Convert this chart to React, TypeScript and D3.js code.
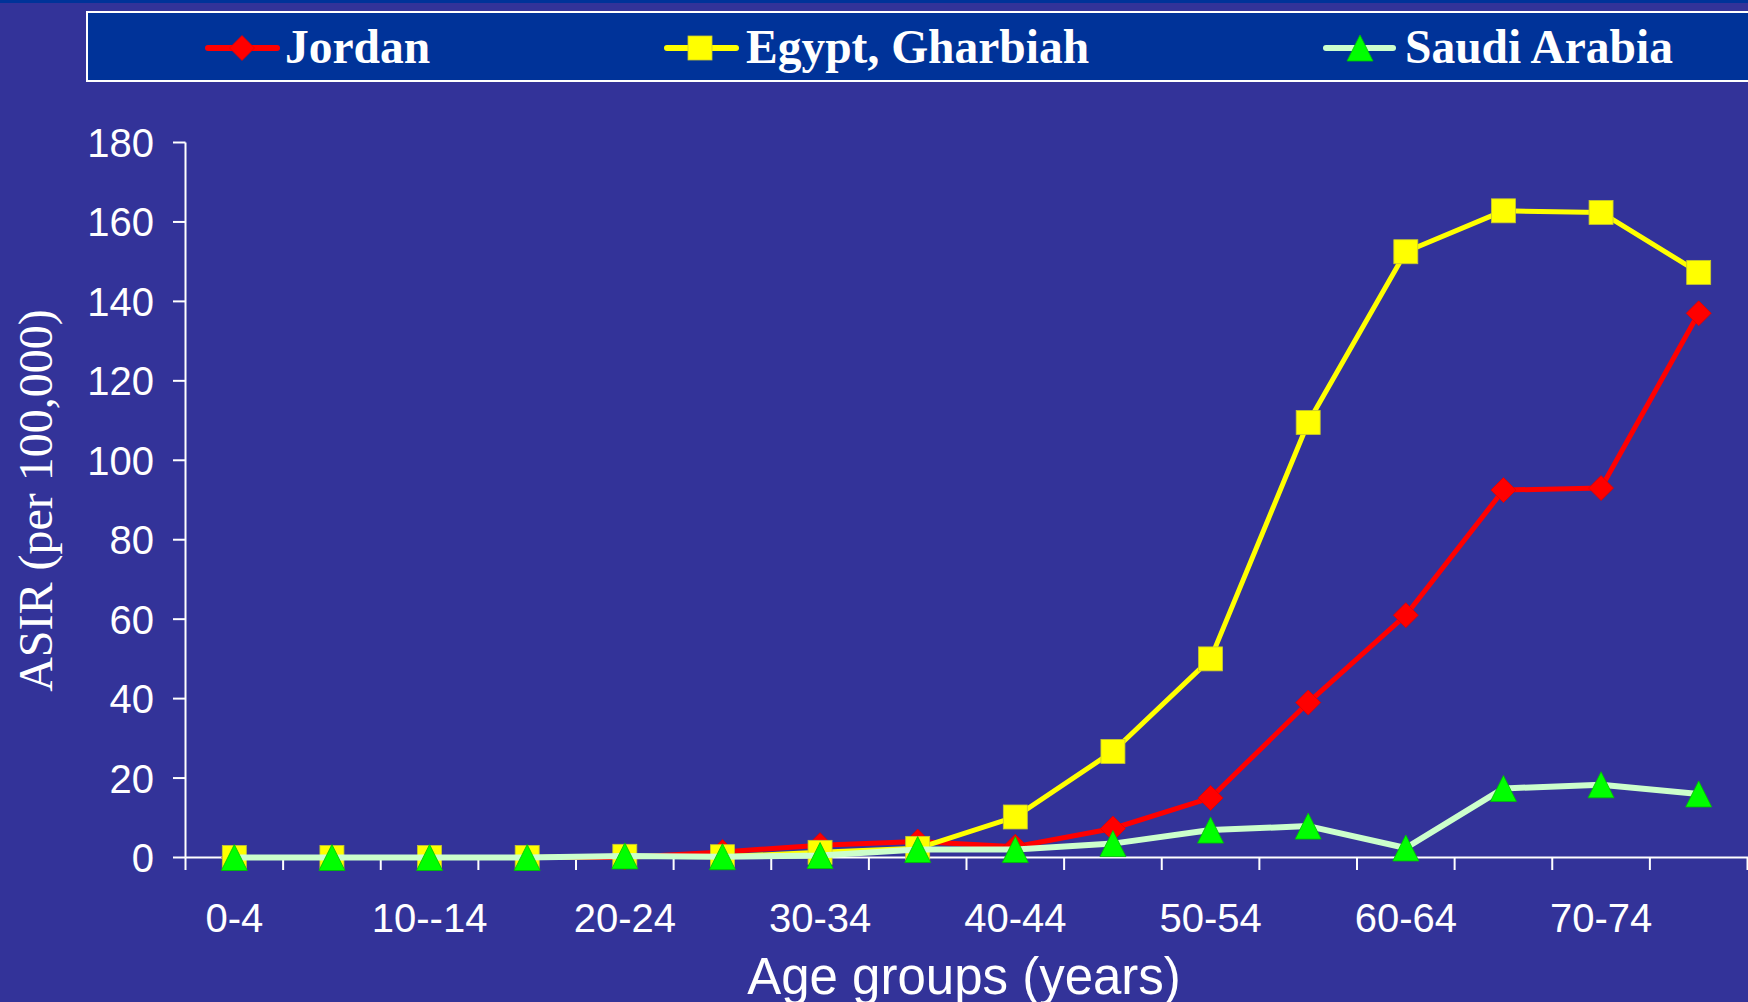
import React from "react";
import * as d3 from "d3";

const categories = ["0-4","5-9","10--14","15-19","20-24","25-29","30-34","35-39","40-44","45-49","50-54","55-59","60-64","65-69","70-74","75+"];
const jordan = [0,0,0,0,0,1.4,3.1,4.0,2.7,7.3,15,39,61,92.5,93,137];
const egypt = [0,0,0,0,0.3,0.2,1.3,2.3,10.2,26.7,50,109.5,152.5,162.8,162.4,147.3];
const saudi = [0,0,0,0,0.4,0.2,0.5,2,2,3.5,6.9,7.9,2.4,17.4,18.3,16];
const yTicks = [0,20,40,60,80,100,120,140,160,180];

const W = 1748, H = 1002;
const BG = "#333399";

function Marker({ kind, x, y }: { kind: string; x: number; y: number }) {
  if (kind === "diamond") {
    const r = 12.5;
    return <path d={`M${x},${y - r}L${x + r},${y}L${x},${y + r}L${x - r},${y}Z`} fill="#ff0000" stroke="#e00000" strokeWidth={0.8} />;
  }
  if (kind === "square") {
    const s = 24;
    return <rect x={x - s / 2} y={y - s / 2} width={s} height={s} fill="#ffff00" stroke="#c8c830" strokeWidth={0.8} />;
  }
  const w = 26, h = 26;
  return <path d={`M${x},${y - h / 2}L${x + w / 2},${y + h / 2}L${x - w / 2},${y + h / 2}Z`} fill="#00ff00" stroke="#00c000" strokeWidth={0.8} />;
}

export default function App() {
  const x = d3.scaleBand<string>().domain(categories).range([185.5, 1747.5]).padding(0);
  const y = d3.scaleLinear().domain([0, 180]).range([857.5, 142.5]);
  const cx = (c: string) => (x(c) as number) + x.bandwidth() / 2;
  const line = d3.line<number>().x((_, i) => cx(categories[i])).y((d) => y(d));

  const series = [
    { name: "Jordan", data: jordan, color: "#ff0000", width: 5, marker: "diamond", lx1: 208, lx2: 277, mx: 242, tx: 285 },
    { name: "Egypt, Gharbiah", data: egypt, color: "#ffff00", width: 5, marker: "square", lx1: 667, lx2: 736, mx: 700, tx: 746 },
    { name: "Saudi Arabia", data: saudi, color: "#ccffcc", width: 6, marker: "triangle", lx1: 1326, lx2: 1393, mx: 1360, tx: 1405 },
  ];

  const boundaries = categories.map((c) => x(c) as number).concat([x.range()[1]]);

  return (
    <svg width={W} height={H} style={{ position: "absolute", left: 0, top: 0, display: "block" }}>
      <rect x={0} y={0} width={W} height={H} fill={BG} />
      <rect x={0} y={0} width={W} height={3} fill="#003399" />
      {/* legend */}
      <rect x={87} y={12} width={W} height={69} fill="#003399" stroke="#ffffff" strokeWidth={2} />
      {series.map((s) => (
        <g key={s.name}>
          <line x1={s.lx1} x2={s.lx2} y1={48} y2={48} stroke={s.color} strokeWidth={6} strokeLinecap="round" />
          <Marker kind={s.marker} x={s.mx} y={48} />
          <text x={s.tx} y={63} fill="#ffffff" fontFamily="'Liberation Serif', 'Times New Roman', serif" fontWeight="bold" fontSize={47.5}>
            {s.name}
          </text>
        </g>
      ))}
      {/* y axis */}
      <line x1={185.5} x2={185.5} y1={y(180)} y2={y(0)} stroke="#ffffff" strokeWidth={2} />
      {yTicks.map((t) => (
        <g key={t}>
          <line x1={173} x2={185.5} y1={y(t)} y2={y(t)} stroke="#ffffff" strokeWidth={2} />
          <text x={154} y={y(t) + 14.5} textAnchor="end" fill="#ffffff" fontFamily="'Liberation Sans', Arial, sans-serif" fontSize={40}>
            {t}
          </text>
        </g>
      ))}
      {/* x axis */}
      <line x1={185.5} x2={W} y1={y(0)} y2={y(0)} stroke="#ffffff" strokeWidth={2} />
      {boundaries.map((b, i) => (
        <line key={i} x1={b} x2={b} y1={y(0)} y2={y(0) + 12.5} stroke="#ffffff" strokeWidth={2} />
      ))}
      {categories.map((c, i) =>
        i % 2 === 0 ? (
          <text key={c} x={cx(c)} y={932} textAnchor="middle" fill="#ffffff" fontFamily="'Liberation Sans', Arial, sans-serif" fontSize={40}>
            {c}
          </text>
        ) : null
      )}
      <text x={964} y={994} textAnchor="middle" fill="#ffffff" fontFamily="'Liberation Sans', Arial, sans-serif" fontSize={51}>
        Age groups (years)
      </text>
      <text transform="translate(52,500.5) rotate(-90)" textAnchor="middle" fill="#ffffff" fontFamily="'Liberation Serif', 'Times New Roman', serif" fontSize={48}>
        ASIR (per 100,000)
      </text>
      {/* series */}
      {series.map((s) => (
        <g key={s.name}>
          <path d={line(s.data) || ""} fill="none" stroke={s.color} strokeWidth={s.width} strokeLinejoin="round" />
          {s.data.map((v, i) => (
            <Marker key={i} kind={s.marker} x={cx(categories[i])} y={y(v)} />
          ))}
        </g>
      ))}
    </svg>
  );
}
